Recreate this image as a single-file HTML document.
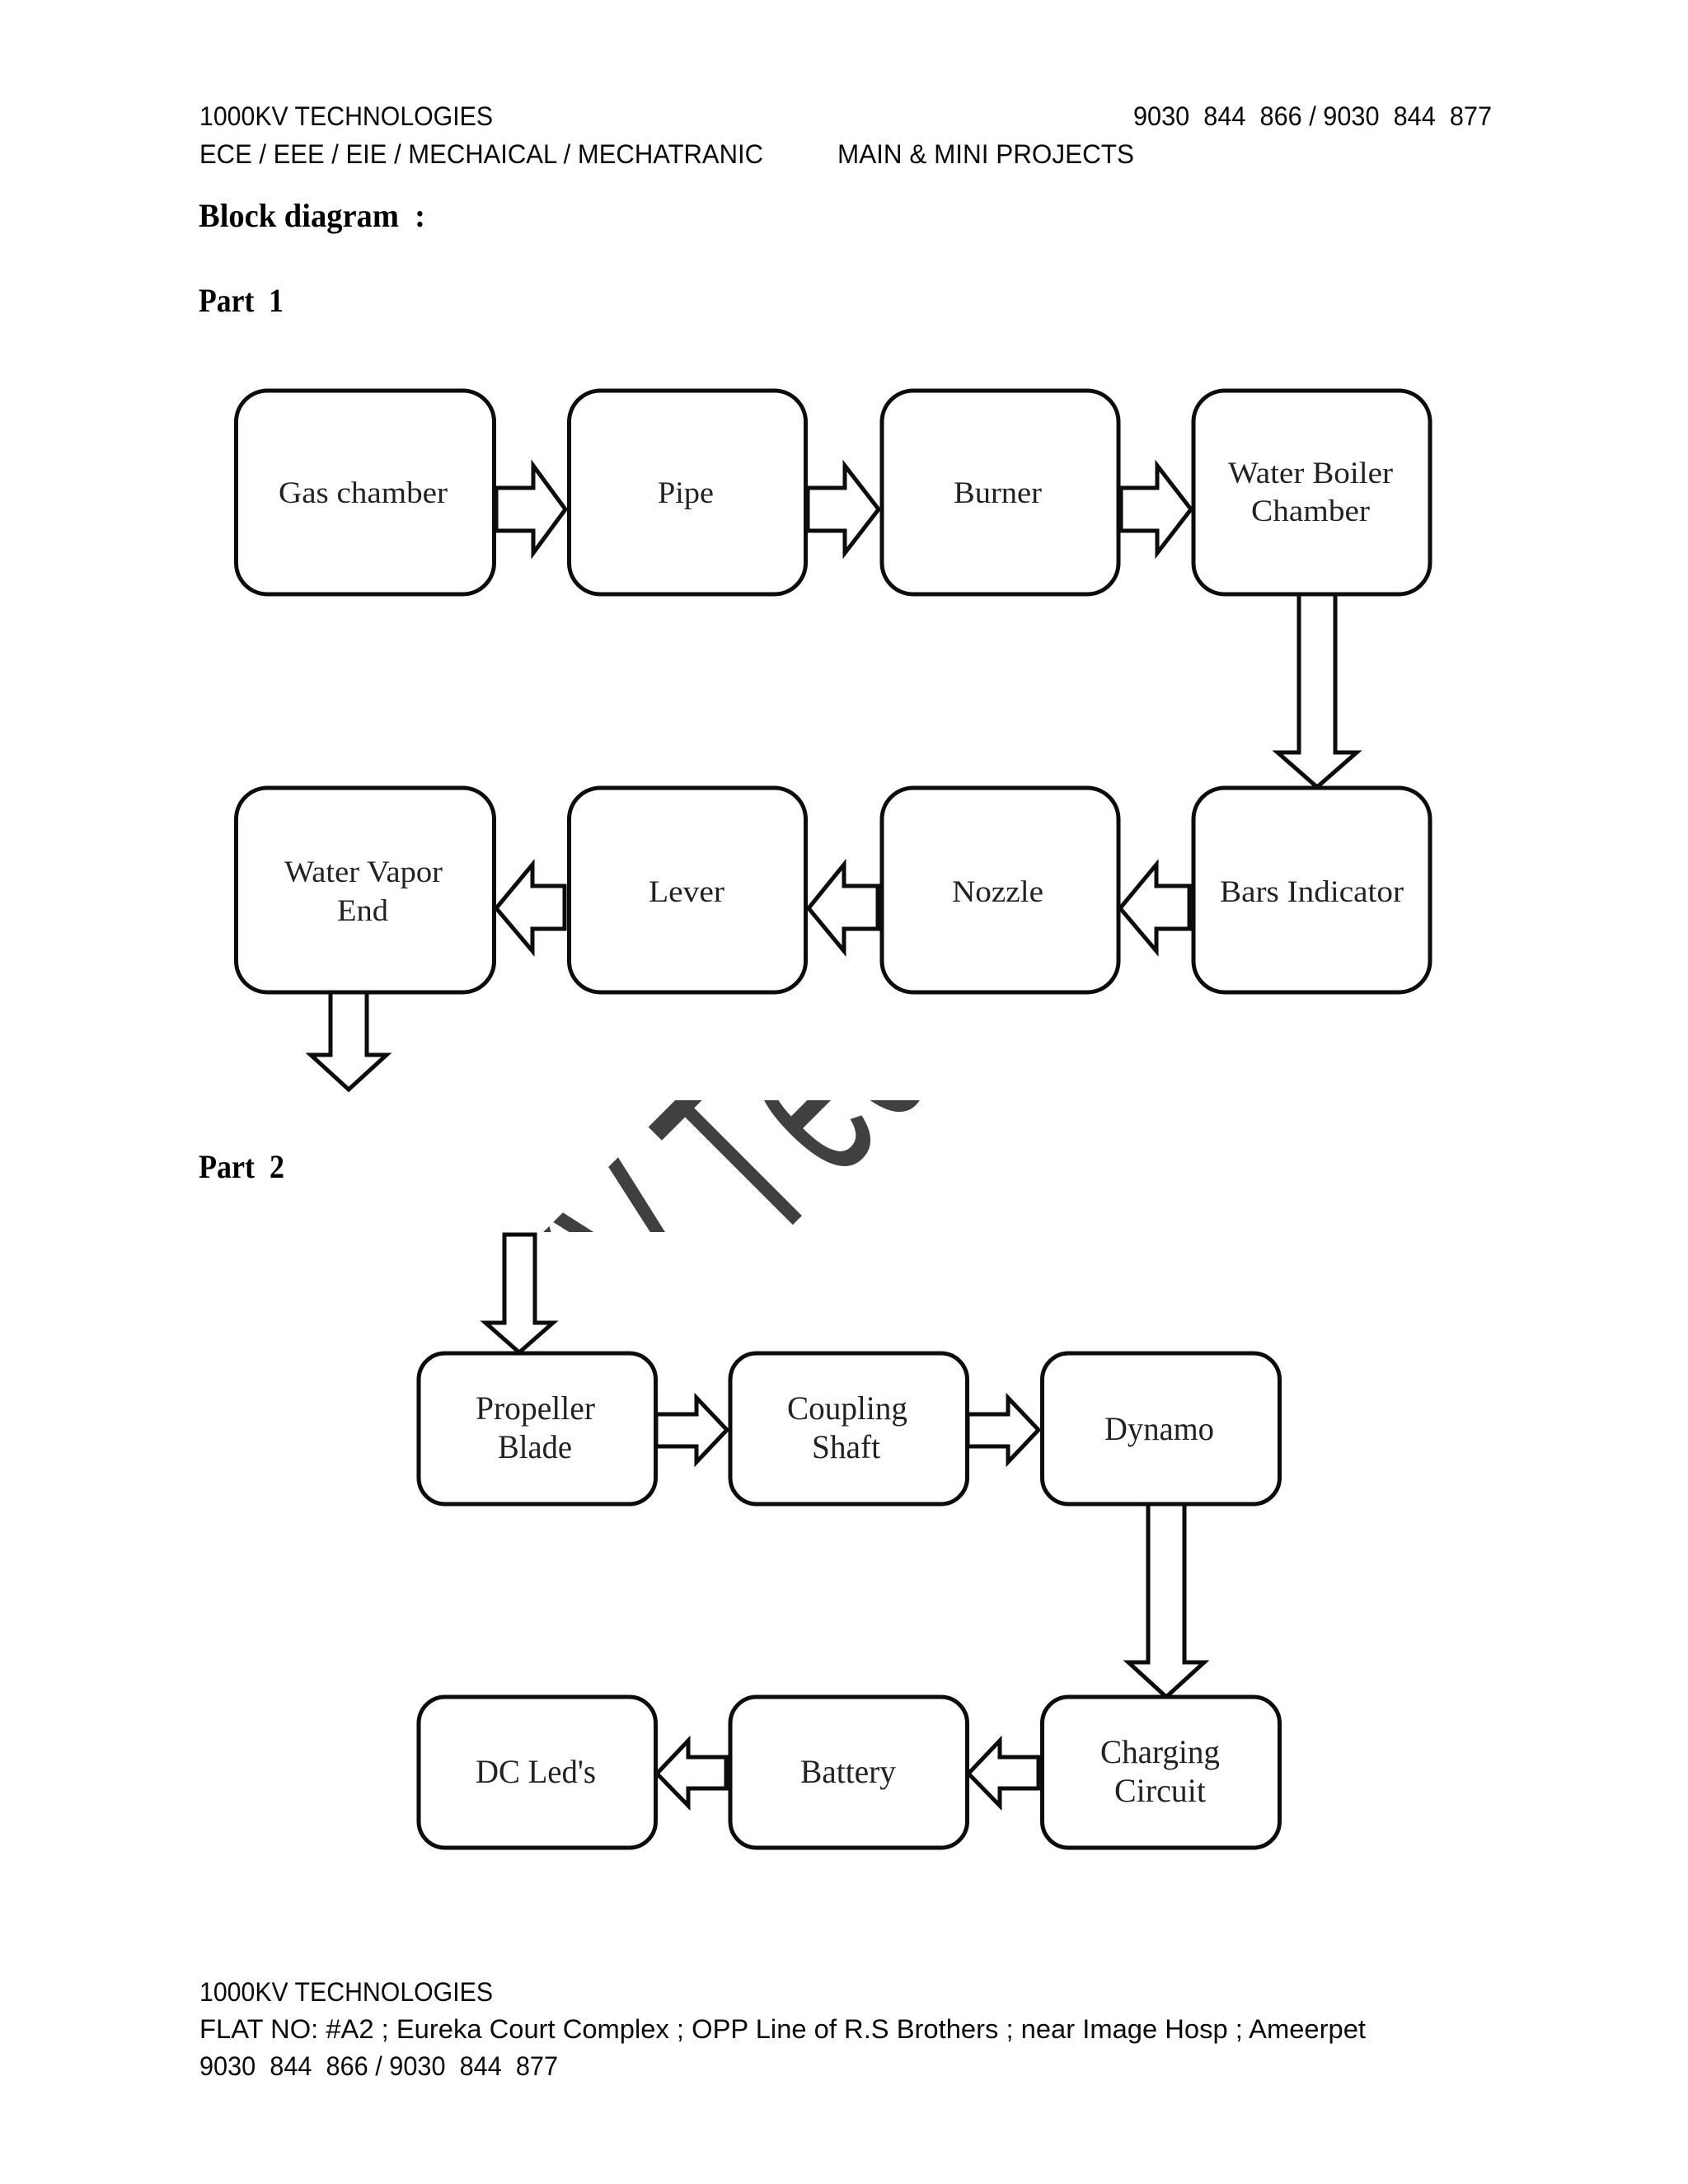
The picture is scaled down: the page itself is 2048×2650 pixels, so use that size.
<!DOCTYPE html>
<html><head><meta charset="utf-8"><style>
html,body{margin:0;padding:0;background:#fff;width:2048px;height:2650px;overflow:hidden}
svg{display:block}
.h{font-family:"Liberation Sans",sans-serif;font-size:32px;fill:#0a0a0a}
.b{font-family:"Liberation Serif",serif;font-size:40px;font-weight:bold;fill:#000}
.l{font-family:"Liberation Serif",serif;font-size:37px;fill:#222}
.m{font-family:"Liberation Serif",serif;font-size:40px;fill:#222}
.box{fill:#fff;stroke:#0c0c0c;stroke-width:5}
.ar{fill:#fff;stroke:#0c0c0c;stroke-width:5;stroke-miterlimit:8}
.wm{font-family:"Liberation Sans",sans-serif;font-size:302px;fill:#404040}
</style></head><body>
<svg xmlns="http://www.w3.org/2000/svg" width="2048" height="2650" viewBox="0 0 2048 2650">
<rect width="2048" height="2650" fill="#fff"/>
<defs><clipPath id="c"><rect x="655" y="1335" width="464" height="160"/></clipPath></defs>
<g clip-path="url(#c)"><g transform="translate(967.3,1480.7) rotate(-45) scale(.56,1)">
<text class="wm" x="-575" y="0">K</text>
<text class="wm" x="-378" y="0">V</text>
<text class="wm" x="-92" y="0">T</text>
<text class="wm" x="109" y="0">e</text>
<text class="wm" x="277" y="0">c</text>
</g></g>

<text class="h" x="242" y="152" textLength="356" lengthAdjust="spacingAndGlyphs">1000KV TECHNOLOGIES</text>
<text class="h" x="242" y="198" textLength="684" lengthAdjust="spacingAndGlyphs">ECE / EEE / EIE / MECHAICAL / MECHATRANIC</text>
<text class="h" x="1016" y="198" textLength="360" lengthAdjust="spacingAndGlyphs">MAIN &amp; MINI PROJECTS</text>
<text class="h" x="1375" y="152" textLength="435" lengthAdjust="spacingAndGlyphs" xml:space="preserve">9030  844  866 / 9030  844  877</text>
<text class="b" x="241" y="275" textLength="275" lengthAdjust="spacingAndGlyphs" xml:space="preserve">Block diagram  :</text>
<text class="b" x="241" y="378" textLength="103" lengthAdjust="spacingAndGlyphs" xml:space="preserve">Part  1</text>
<text class="b" x="241" y="1429" textLength="104" lengthAdjust="spacingAndGlyphs" xml:space="preserve">Part  2</text>

<!-- Part 1 arrows -->
<polygon class="ar" points="602,592 647,592 647,565 686,618 647,671 647,644 602,644"/>
<polygon class="ar" points="980,592 1025,592 1025,565 1066,618 1025,671 1025,644 980,644"/>
<polygon class="ar" points="1360,592 1404,592 1404,565 1445,618 1404,671 1404,644 1360,644"/>
<polygon class="ar" points="1576,718 1620,718 1620,913 1646,913 1598,955 1550,913 1576,913"/>
<polygon class="ar" points="1443,1075 1403,1075 1403,1049 1359,1102 1403,1154 1403,1127 1443,1127"/>
<polygon class="ar" points="1065,1075 1024,1075 1024,1049 981,1102 1024,1154 1024,1127 1065,1127"/>
<polygon class="ar" points="685,1075 646,1075 646,1049 602,1102 646,1154 646,1127 685,1127"/>
<polygon class="ar" points="401,1200 445,1200 445,1280 469,1280 423,1322 377,1280 401,1280"/>

<!-- Part 2 arrows -->
<polygon class="ar" points="612,1498 649,1498 649,1605 671,1605 630,1641 589,1605 612,1605"/>
<polygon class="ar" points="796,1716 845,1716 845,1696 882,1735 845,1774 845,1755 796,1755"/>
<polygon class="ar" points="1174,1716 1223,1716 1223,1696 1260,1735 1223,1774 1223,1755 1174,1755"/>
<polygon class="ar" points="1393,1824 1437,1824 1437,2017 1461,2017 1415,2059 1369,2017 1393,2017"/>
<polygon class="ar" points="1260,2132 1213,2132 1213,2112 1175,2152 1213,2191 1213,2170 1260,2170"/>
<polygon class="ar" points="881,2132 835,2132 835,2112 797,2152 835,2191 835,2170 881,2170"/>

<!-- Part 1 boxes -->
<rect class="box" x="286.5" y="474" width="313" height="247" rx="38"/>
<rect class="box" x="690.5" y="474" width="287" height="247" rx="38"/>
<rect class="box" x="1070" y="474" width="287" height="247" rx="38"/>
<rect class="box" x="1448" y="474" width="287" height="247" rx="38"/>
<rect class="box" x="286.5" y="956" width="313" height="248" rx="38"/>
<rect class="box" x="690.5" y="956" width="287" height="248" rx="38"/>
<rect class="box" x="1070" y="956" width="287" height="248" rx="38"/>
<rect class="box" x="1448" y="956" width="287" height="248" rx="38"/>
<!-- Part 2 boxes -->
<rect class="box" x="508" y="1642" width="287.5" height="183" rx="32"/>
<rect class="box" x="886" y="1642" width="287.5" height="183" rx="32"/>
<rect class="box" x="1264.5" y="1642" width="288" height="183" rx="32"/>
<rect class="box" x="508" y="2059" width="287.5" height="183" rx="32"/>
<rect class="box" x="886" y="2059" width="287.5" height="183" rx="32"/>
<rect class="box" x="1264.5" y="2059" width="288" height="183" rx="32"/>

<!-- labels -->
<text class="l" x="338" y="610" textLength="205" lengthAdjust="spacingAndGlyphs">Gas chamber</text>
<text class="l" x="798" y="610" textLength="68" lengthAdjust="spacingAndGlyphs">Pipe</text>
<text class="l" x="1157" y="610" textLength="107" lengthAdjust="spacingAndGlyphs">Burner</text>
<text class="l" x="1490" y="586" textLength="200" lengthAdjust="spacingAndGlyphs">Water Boiler</text>
<text class="l" x="1518" y="632" textLength="144" lengthAdjust="spacingAndGlyphs">Chamber</text>
<text class="l" x="1480" y="1094" textLength="223" lengthAdjust="spacingAndGlyphs">Bars Indicator</text>
<text class="l" x="1155" y="1094" textLength="111" lengthAdjust="spacingAndGlyphs">Nozzle</text>
<text class="l" x="787" y="1094" textLength="92" lengthAdjust="spacingAndGlyphs">Lever</text>
<text class="l" x="345" y="1070" textLength="192" lengthAdjust="spacingAndGlyphs">Water Vapor</text>
<text class="l" x="409" y="1117" textLength="62" lengthAdjust="spacingAndGlyphs">End</text>
<text class="m" x="577" y="1722" textLength="145" lengthAdjust="spacingAndGlyphs">Propeller</text>
<text class="m" x="604" y="1769" textLength="90" lengthAdjust="spacingAndGlyphs">Blade</text>
<text class="m" x="955" y="1722" textLength="146" lengthAdjust="spacingAndGlyphs">Coupling</text>
<text class="m" x="985" y="1769" textLength="83" lengthAdjust="spacingAndGlyphs">Shaft</text>
<text class="m" x="1340" y="1747" textLength="133" lengthAdjust="spacingAndGlyphs">Dynamo</text>
<text class="m" x="577" y="2163" textLength="146" lengthAdjust="spacingAndGlyphs">DC Led's</text>
<text class="m" x="971" y="2163" textLength="116" lengthAdjust="spacingAndGlyphs">Battery</text>
<text class="m" x="1335" y="2139" textLength="145" lengthAdjust="spacingAndGlyphs">Charging</text>
<text class="m" x="1352" y="2186" textLength="111" lengthAdjust="spacingAndGlyphs">Circuit</text>

<!-- footer -->
<text class="h" x="242" y="2428" textLength="356" lengthAdjust="spacingAndGlyphs">1000KV TECHNOLOGIES</text>
<text class="h" x="242" y="2473" textLength="1415" lengthAdjust="spacingAndGlyphs">FLAT NO: #A2 ; Eureka Court Complex ; OPP Line of R.S Brothers ; near Image Hosp ; Ameerpet</text>
<text class="h" x="242" y="2518" textLength="435" lengthAdjust="spacingAndGlyphs" xml:space="preserve">9030  844  866 / 9030  844  877</text>
</svg>
</body></html>
